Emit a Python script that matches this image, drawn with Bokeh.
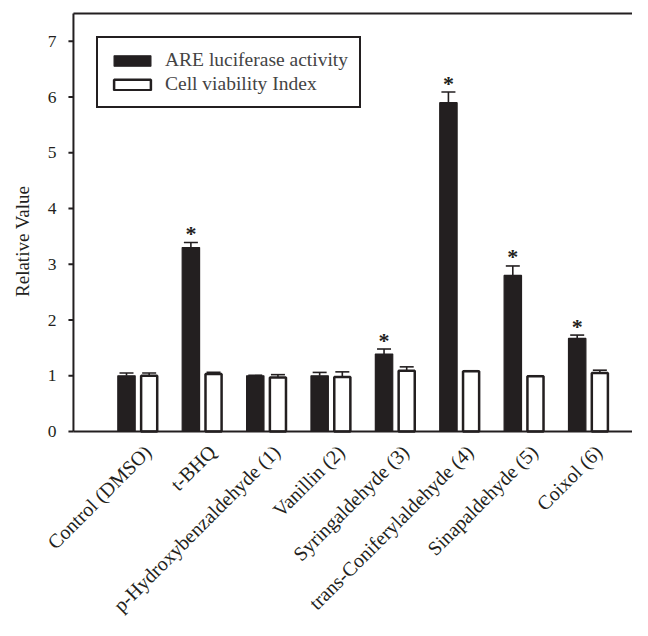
import math
from bokeh.plotting import figure
from bokeh.models import (ColumnDataSource, Legend, LegendItem, Whisker, TeeHead, Range1d)
from bokeh.core.properties import value
from bokeh.embed import file_html
from bokeh.resources import INLINE

# ---- data ----
categories = ["Control (DMSO)", "t-BHQ", "p-Hydroxybenzaldehyde (1)", "Vanillin (2)",
              "Syringaldehyde (3)", "trans-Coniferylaldehyde (4)", "Sinapaldehyde (5)", "Coixol (6)"]
are_values = [1.00, 3.30, 1.00, 1.00, 1.39, 5.90, 2.80, 1.67]
are_errors = [0.05, 0.09, 0.01, 0.06, 0.09, 0.19, 0.17, 0.06]
via_values = [1.00, 1.03, 0.97, 0.98, 1.09, 1.08, 0.99, 1.05]
via_errors = [0.05, 0.03, 0.05, 0.09, 0.07, 0.01, 0.01, 0.05]
significant = [False, True, False, False, True, True, True, True]
y_ticks = [0, 1, 2, 3, 4, 5, 6, 7]
y_tick_labels = ["0", "1", "2", "3", "4", "5", "6", "7"]
y_label = "Relative Value"
y_top = 7.5          # top of the value axis
x_left = -1          # position of the value axis (one slot left of the first group)

FONT = "Liberation Serif"
DARK = "#231f20"
OFF = 0.176
BAR_W = 0.27

idx = list(range(len(categories)))
are_src = ColumnDataSource(dict(
    x=[i - OFF for i in idx], top=are_values,
    up=[v + e for v, e in zip(are_values, are_errors)]))
via_src = ColumnDataSource(dict(
    x=[i + OFF for i in idx], top=via_values,
    up=[v + e for v, e in zip(via_values, via_errors)]))
star_src = ColumnDataSource(dict(
    x=[i - OFF for i, s in zip(idx, significant) if s],
    y=[v + e for v, e, s in zip(are_values, are_errors, significant) if s],
    t=["*" for s in significant if s]))
cat_src = ColumnDataSource(dict(x=idx, y=[0] * len(idx), t=categories))
tick_src = ColumnDataSource(dict(x=[x_left] * len(y_ticks), y=y_ticks, t=y_tick_labels))

# the plotting area covers the whole canvas; the axes are drawn inside it
p = figure(width=632, height=620, output_backend="svg", toolbar_location=None,
           x_range=Range1d(-2.133, 7.683), y_range=Range1d(-3.391, 7.733),
           min_border=0, x_axis_location=None, y_axis_location=None)
p.background_fill_color = "white"
p.border_fill_color = "white"
p.outline_line_color = None
p.xgrid.visible = False
p.ygrid.visible = False

r_are = p.vbar(x="x", top="top", width=BAR_W, bottom=0, source=are_src,
               fill_color=DARK, line_color=DARK, line_width=1.2)
r_via = p.vbar(x="x", top="top", width=BAR_W - 0.02, bottom=0, source=via_src,
               fill_color="white", line_color=DARK, line_width=2.5)

for src in (are_src, via_src):
    w = Whisker(source=src, base="x", lower="top", upper="up", dimension="height",
                line_color=DARK, line_width=1.6, lower_head=None,
                upper_head=TeeHead(size=14, line_color=DARK, line_width=1.6))
    p.add_layout(w)

p.text(x="x", y="y", text="t", source=star_src, text_font=value(FONT),
       text_font_size="22px", text_font_style="bold", text_align="center",
       text_baseline="alphabetic", y_offset=-9, text_color=DARK)

# value axis: line, outward ticks, labels, title
p.segment(x0=x_left, y0=0, x1=x_left, y1=y_top, line_color=DARK, line_width=2)
p.ray(x="x", y="y", source=tick_src, length=5, length_units="screen", angle=math.pi,
      line_color=DARK, line_width=2)
p.text(x="x", y="y", text="t", source=tick_src, x_offset=-17, text_align="right",
       text_baseline="middle", text_font=value(FONT), text_font_size="17.5px",
       text_color=DARK)
p.text(x=[x_left], y=[y_top * 0.455], text=[y_label], angle=math.pi / 2, x_offset=-51,
       text_align="center", text_baseline="middle", text_font=value(FONT),
       text_font_size="19px", text_color=DARK)

# bottom axis line at zero and top frame line
p.ray(x=[x_left], y=[0], length=0, angle=0, line_color=DARK, line_width=2)
p.ray(x=[x_left], y=[y_top], length=0, angle=0, line_color=DARK, line_width=2)

# rotated category labels
p.text(x="x", y="y", text="t", source=cat_src, angle=math.pi / 4, text_align="right",
       text_baseline="middle", x_offset=10, y_offset=17, text_font=value(FONT),
       text_font_size="20px", text_color=DARK)

legend = Legend(items=[LegendItem(label="ARE luciferase activity", renderers=[r_are]),
                       LegendItem(label="Cell viability Index", renderers=[r_via])],
                location=(96, 512), border_line_color=DARK, border_line_width=2,
                border_line_alpha=1,
                glyph_width=46, glyph_height=13, label_text_font=FONT,
                label_text_font_size="19.5px", padding=11, spacing=2, label_standoff=10,
                margin=0, background_fill_alpha=1)
p.add_layout(legend, "center")

open("out.html", "w").write(file_html(p, INLINE))
